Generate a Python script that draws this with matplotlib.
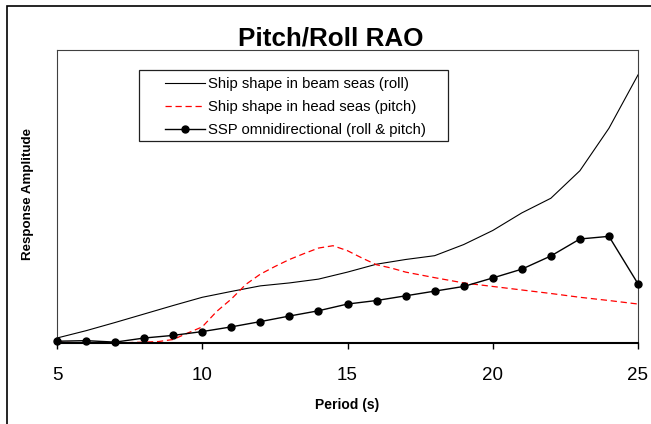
import numpy as np
import matplotlib.pyplot as plt
from matplotlib.patches import Rectangle

plt.rcParams['font.family'] = ['Liberation Sans', 'DejaVu Sans']

# Period (s)
period = [5, 6, 7, 8, 9, 10, 11, 12, 13, 14, 15, 16, 17, 18, 19, 20, 21, 22, 23, 24, 25]

# Ship shape in beam seas (roll)
roll = [0.17, 0.42, 0.70, 0.99, 1.28, 1.56, 1.76, 1.95, 2.05, 2.18, 2.42, 2.69, 2.85,
        2.98, 3.36, 3.84, 4.44, 4.94, 5.88, 7.33, 9.15]

# Ship shape in head seas (pitch), read at half-second steps
pitch_period = [5, 6, 7, 8, 8.5, 9, 9.5, 10, 10.5, 11, 11.5, 12, 12.5, 13, 13.5, 14, 14.5,
                15, 15.5, 16, 16.5, 17, 18, 19, 20, 21, 22, 23, 24, 25]
pitch = [0.03, 0.0, 0.0, 0.03, 0.05, 0.12, 0.34, 0.55, 1.08, 1.5, 2.0, 2.35, 2.61, 2.85,
         3.05, 3.24, 3.32, 3.15, 2.9, 2.67, 2.56, 2.42, 2.23, 2.05, 1.93, 1.81, 1.69,
         1.56, 1.45, 1.33]

# SSP omnidirectional (roll & pitch)
ssp = [0.06, 0.08, 0.03, 0.17, 0.26, 0.39, 0.55, 0.73, 0.92, 1.10, 1.33, 1.45, 1.61,
       1.77, 1.93, 2.22, 2.52, 2.97, 3.55, 3.64, 2.02]

W, H = 651, 424
fig = plt.figure(figsize=(W / 100, H / 100), dpi=100)
ax = fig.add_axes([57 / W, 1 - 343 / H, (638 - 57) / W, (343 - 50) / H])

ax.plot(period, roll, color='black', lw=0.8, label='Ship shape in beam seas (roll)', clip_on=False)
ax.plot(pitch_period, pitch, color='red', lw=0.9, dashes=(5, 3),
        label='Ship shape in head seas (pitch)', clip_on=False)
ax.plot(period, ssp, color='black', lw=1.0, marker='o', markersize=5,
        label='SSP omnidirectional (roll & pitch)', clip_on=False, zorder=3)

ax.set_xlim(5, 25)
ax.set_ylim(0, 10)
ax.set_yticks([])
ax.set_xticks([5, 10, 15, 20, 25])
ax.tick_params(axis='x', direction='out', length=4.3, width=1, pad=13.2, labelsize=13.5)

for s in ['top', 'left', 'right']:
    ax.spines[s].set_color('#404040')
    ax.spines[s].set_linewidth(0.8)
ax.spines['bottom'].set_color('black')
ax.spines['bottom'].set_linewidth(1.5)

# legend with its own box
leg = ax.legend(loc='upper left', bbox_to_anchor=(0.186, 0.908), frameon=False,
                fontsize=10.7, borderpad=0, handlelength=2.7, handletextpad=0.2,
                labelspacing=0.62, borderaxespad=0)
ax.add_patch(Rectangle((0.141, 0.689), 0.673 - 0.141, 0.932 - 0.689, transform=ax.transAxes,
                       fill=False, edgecolor='#202020', lw=0.9, zorder=4))

fig.text(331 / W, 1 - 46 / H, 'Pitch/Roll RAO', ha='center', va='baseline',
         fontsize=18.7, fontweight='bold')
fig.text(347.5 / W, 1 - 409 / H, 'Period (s)', ha='center', va='baseline',
         fontsize=10, fontweight='bold')
fig.text(28 / W, 1 - 194 / H, 'Response Amplitude', ha='center', va='center',
         rotation=90, fontsize=9.6, fontweight='bold')

# outer chart border
fig.add_artist(Rectangle((7 / W, -0.05), 1.2, 1.05 - 6 / H, transform=fig.transFigure,
                         fill=False, edgecolor='black', lw=1.2))

plt.savefig('out.png', dpi=100)
